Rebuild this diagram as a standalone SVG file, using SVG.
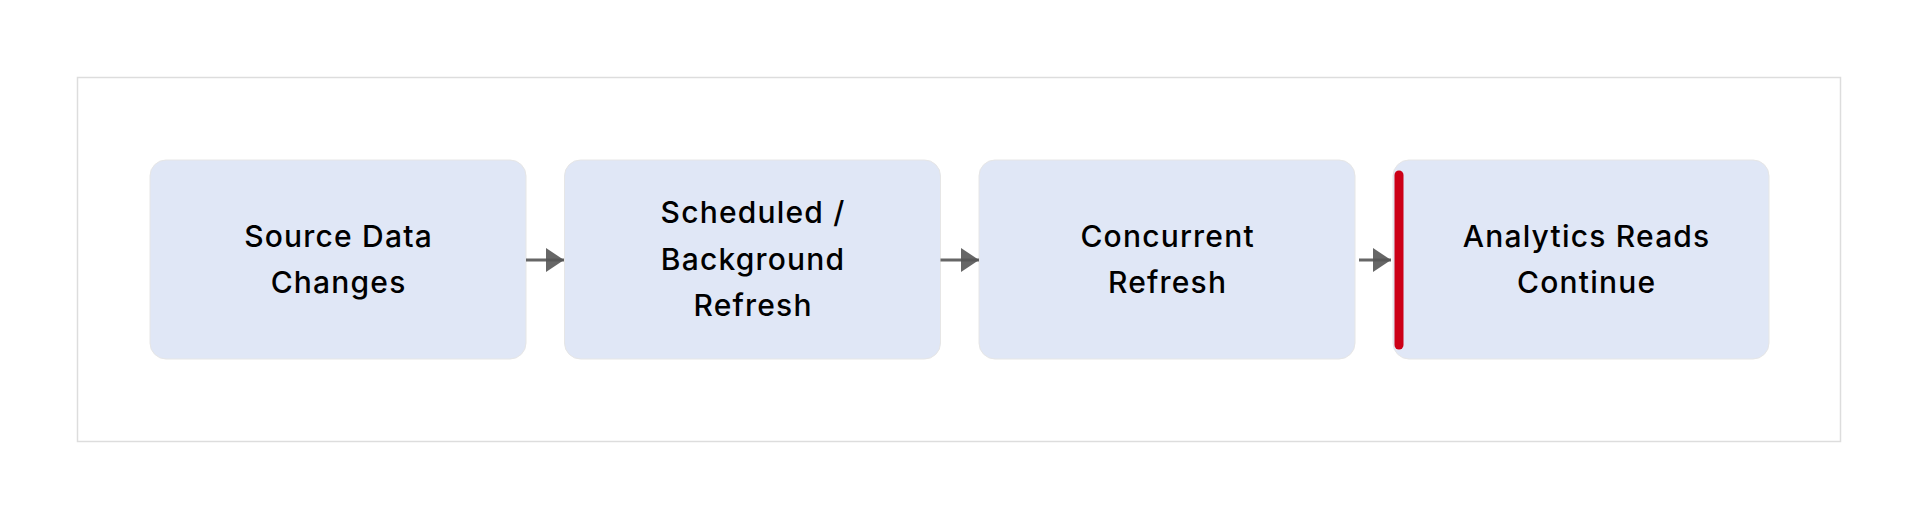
<svg xmlns="http://www.w3.org/2000/svg" width="1920" height="520" viewBox="0 0 1920 520">
<style>
.frame{fill:#ffffff;stroke:#dddddd;stroke-width:1.5}
.box{fill:#e0e7f6;stroke:#e6e6e6;stroke-width:1}
.lbl{font-family:Inter,"Noto Sans","Liberation Sans",sans-serif;font-size:30px;font-weight:500;letter-spacing:1.2px;fill:#000000;text-anchor:middle}
.conn{stroke:#555555;stroke-opacity:0.9;stroke-width:3;fill:none}
</style>
<defs>
<marker id="ah" viewBox="0 0 18 24" refX="18" refY="12" markerWidth="18" markerHeight="24" markerUnits="userSpaceOnUse" orient="auto">
<path d="M0,0 L18,12 L0,24 Z" fill="#555555" fill-opacity="0.9"/>
</marker>
</defs>
<rect width="1920" height="520" fill="#ffffff"/>
<rect class="frame" x="77.5" y="77.5" width="1763" height="364"/>
<g id="node1">
<rect class="box" x="150" y="160" width="376" height="199" rx="16"/>
<text class="lbl" x="338.6" y="246.7">Source Data</text>
<text class="lbl" x="338.6" y="292.7">Changes</text>
</g>
<g id="node2">
<rect class="box" x="564.5" y="160" width="376" height="199" rx="16"/>
<text class="lbl" x="753.1" y="223.3">Scheduled /</text>
<text class="lbl" x="753.1" y="269.5">Background</text>
<text class="lbl" x="753.1" y="315.5">Refresh</text>
</g>
<g id="node3">
<rect class="box" x="979" y="160" width="376" height="199" rx="16"/>
<text class="lbl" x="1167.6" y="246.7">Concurrent</text>
<text class="lbl" x="1167.6" y="292.7">Refresh</text>
</g>
<g id="node4">
<rect class="box" x="1393" y="160" width="376" height="199" rx="16"/>
<line x1="1399" y1="175" x2="1399" y2="345" stroke="#cc0017" stroke-width="9" stroke-linecap="round"/>
<text class="lbl" x="1586.6" y="246.7">Analytics Reads</text>
<text class="lbl" x="1586.6" y="292.7">Continue</text>
</g>
<g id="connectors">
<line class="conn" x1="526" y1="260" x2="564" y2="260" marker-end="url(#ah)"/>
<line class="conn" x1="940.5" y1="260" x2="979" y2="260" marker-end="url(#ah)"/>
<line class="conn" x1="1359" y1="260" x2="1391" y2="260" marker-end="url(#ah)"/>
</g>
</svg>
